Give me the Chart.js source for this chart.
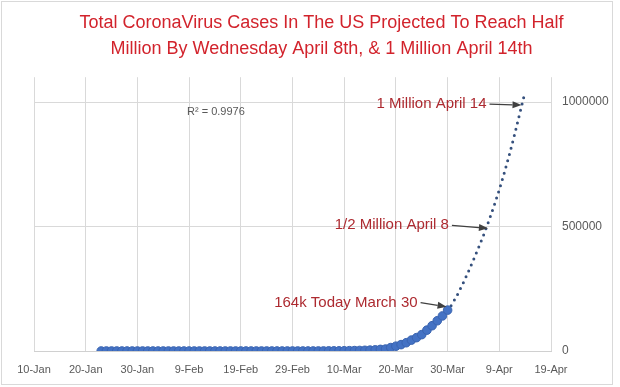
<!DOCTYPE html>
<html>
<head>
<meta charset="utf-8">
<title>US CoronaVirus Cases</title>
<script src="https://cdn.jsdelivr.net/npm/chart.js@4.4.1/dist/chart.umd.min.js"></script>
<style>
  html, body { margin: 0; padding: 0; background: #fff; }
  canvas { display: block; }
</style>
</head>
<body>
<canvas id="casesChart" width="620" height="387"></canvas>
<script>
// x values are days after 10-Jan
const firstCaseDay = 13 // 23-Jan

// total US cases, one value per day, 23-Jan .. 30-Mar
const totalCases = [
  1, 2, 2, 5, 5, 5, 5, 6, 7,
  8, 8, 11, 11, 11, 11, 11, 11, 11, 11, 12, 12, 13, 13, 13, 13, 13, 13, 13, 13,
  15, 15, 15, 51, 51, 57, 58, 60, 68,
  74, 98, 118, 149, 217, 262, 402, 518, 583, 959, 1281, 1663, 2179, 2727, 3499,
  4632, 6421, 7783, 13747, 19273, 25600, 33276, 43847, 53740, 65778, 83836,
  101657, 121465, 140909, 164253
]

// dotted trendline forecast
const trendDays = [80, 81, 82, 83, 84, 85, 86, 87, 88, 89, 90, 91, 92, 93, 94, 95]
const trendCases = [160000, 193000, 230000, 272000, 318000, 366000, 416000, 468000,
  524000, 584000, 648000, 718000, 793000, 873000, 958000, 1042000]

const xTickLabels = ['10-Jan', '20-Jan', '30-Jan', '9-Feb', '19-Feb', '29-Feb',
  '10-Mar', '20-Mar', '30-Mar', '9-Apr', '19-Apr']
const yTickValues = [0, 500000, 1000000]

const titleLines = [
  'Total CoronaVirus Cases In The US Projected To Reach Half',
  'Million By Wednesday April 8th, & 1 Million April 14th'
]
const rSquaredLabel = 'R\u00B2 = 0.9976'
const rSquaredAt = [29.6, 960000]

// callouts: text, and where the arrow points (day, cases)
const noteTexts = ['164k Today March 30', '1/2 Million April 8', '1 Million April 14']
const noteDays = [79.8, 87.8, 94.3]
const noteCases = [178000, 493000, 988000]
const noteShiftX = [-29, -39, -35]
const noteShiftY = [-4, -3, -1]

const FONT = '"Liberation Sans", Arial, sans-serif'

const casePoints = totalCases.map((v, i) => ({ x: firstCaseDay + i, y: v }))
const trendPoints = trendDays.map((d, i) => ({ x: d, y: trendCases[i] }))

function drawArrow(ctx, x0, y0, x1, y1) {
  const ang = Math.atan2(y1 - y0, x1 - x0)
  const head = 9, half = 3.5
  const bx = x1 - head * Math.cos(ang), by = y1 - head * Math.sin(ang)
  ctx.strokeStyle = '#404040'
  ctx.fillStyle = '#404040'
  ctx.lineWidth = 1.2
  ctx.beginPath()
  ctx.moveTo(x0, y0)
  ctx.lineTo(bx, by)
  ctx.stroke()
  ctx.beginPath()
  ctx.moveTo(x1, y1)
  ctx.lineTo(bx + half * Math.sin(ang), by - half * Math.cos(ang))
  ctx.lineTo(bx - half * Math.sin(ang), by + half * Math.cos(ang))
  ctx.closePath()
  ctx.fill()
}

const frame = {
  id: 'frame',
  beforeDraw(chart) {
    const ctx = chart.ctx
    ctx.save()
    ctx.fillStyle = '#fff'
    ctx.fillRect(0, 0, chart.width, chart.height)
    ctx.strokeStyle = '#d9d9d9'
    ctx.lineWidth = 1
    ctx.strokeRect(1.5, 1.5, chart.width - 9, chart.height - 4)
    ctx.restore()
  }
}

const notes = {
  id: 'notes',
  afterDatasetsDraw(chart) {
    const { ctx, scales: { x, y } } = chart
    ctx.save()
    ctx.font = '11px ' + FONT
    ctx.fillStyle = '#595959'
    ctx.textBaseline = 'middle'
    ctx.textAlign = 'left'
    ctx.fillText(rSquaredLabel, x.getPixelForValue(rSquaredAt[0]), y.getPixelForValue(rSquaredAt[1]))

    noteTexts.forEach((text, i) => {
      const tipX = x.getPixelForValue(noteDays[i])
      const tipY = y.getPixelForValue(noteCases[i])
      const right = tipX + noteShiftX[i]
      const ty = tipY + noteShiftY[i]
      ctx.font = '15px ' + FONT
      ctx.fillStyle = '#ad2a30'
      ctx.textAlign = 'right'
      ctx.fillText(text, right, ty)
      drawArrow(ctx, right + 3, ty, tipX, tipY)
    })
    ctx.restore()
  }
}

new Chart(document.getElementById('casesChart'), {
  type: 'scatter',
  data: {
    datasets: [{
      label: 'Trend',
      data: trendPoints,
      showLine: true,
      pointRadius: 0,
      borderColor: '#35507d',
      borderWidth: 3,
      borderDash: [0, 6.5],
      borderCapStyle: 'round',
      order: 2
    }, {
      label: 'Total Cases',
      data: casePoints,
      pointRadius: 4.3,
      pointBorderWidth: 1,
      backgroundColor: '#4472c4',
      borderColor: '#3a64b0',
      order: 1
    }]
  },
  options: {
    responsive: false,
    animation: false,
    layout: { padding: { left: 34, right: 11, top: 0, bottom: 0 } },
    plugins: {
      legend: { display: false },
      tooltip: { enabled: false },
      title: {
        display: true,
        text: titleLines,
        color: '#d2232c',
        font: { family: FONT, size: 18, weight: 'normal', lineHeight: 1.45 },
        padding: { top: 10, bottom: 15 }
      }
    },
    scales: {
      x: {
        type: 'linear',
        min: 0,
        max: 100,
        ticks: {
          stepSize: 10,
          padding: 12,
          color: '#595959',
          font: { family: FONT, size: 11 },
          callback: (v) => xTickLabels[Math.round(v / 10)]
        },
        grid: { color: '#d9d9d9', drawTicks: false },
        border: { color: '#d0d0d0' },
        afterFit: (s) => { s.height = 36 }
      },
      y: {
        position: 'right',
        min: 0,
        max: 1100000,
        afterBuildTicks: (s) => { s.ticks = yTickValues.map(v => ({ value: v })) },
        ticks: {
          padding: 11,
          color: '#595959',
          font: { family: FONT, size: 12 },
          callback: (v) => String(v)
        },
        grid: { color: '#d9d9d9', drawTicks: false },
        border: { display: false },
        afterFit: (s) => { s.width = 58 }
      }
    }
  },
  plugins: [frame, notes]
})
</script>
</body>
</html>
